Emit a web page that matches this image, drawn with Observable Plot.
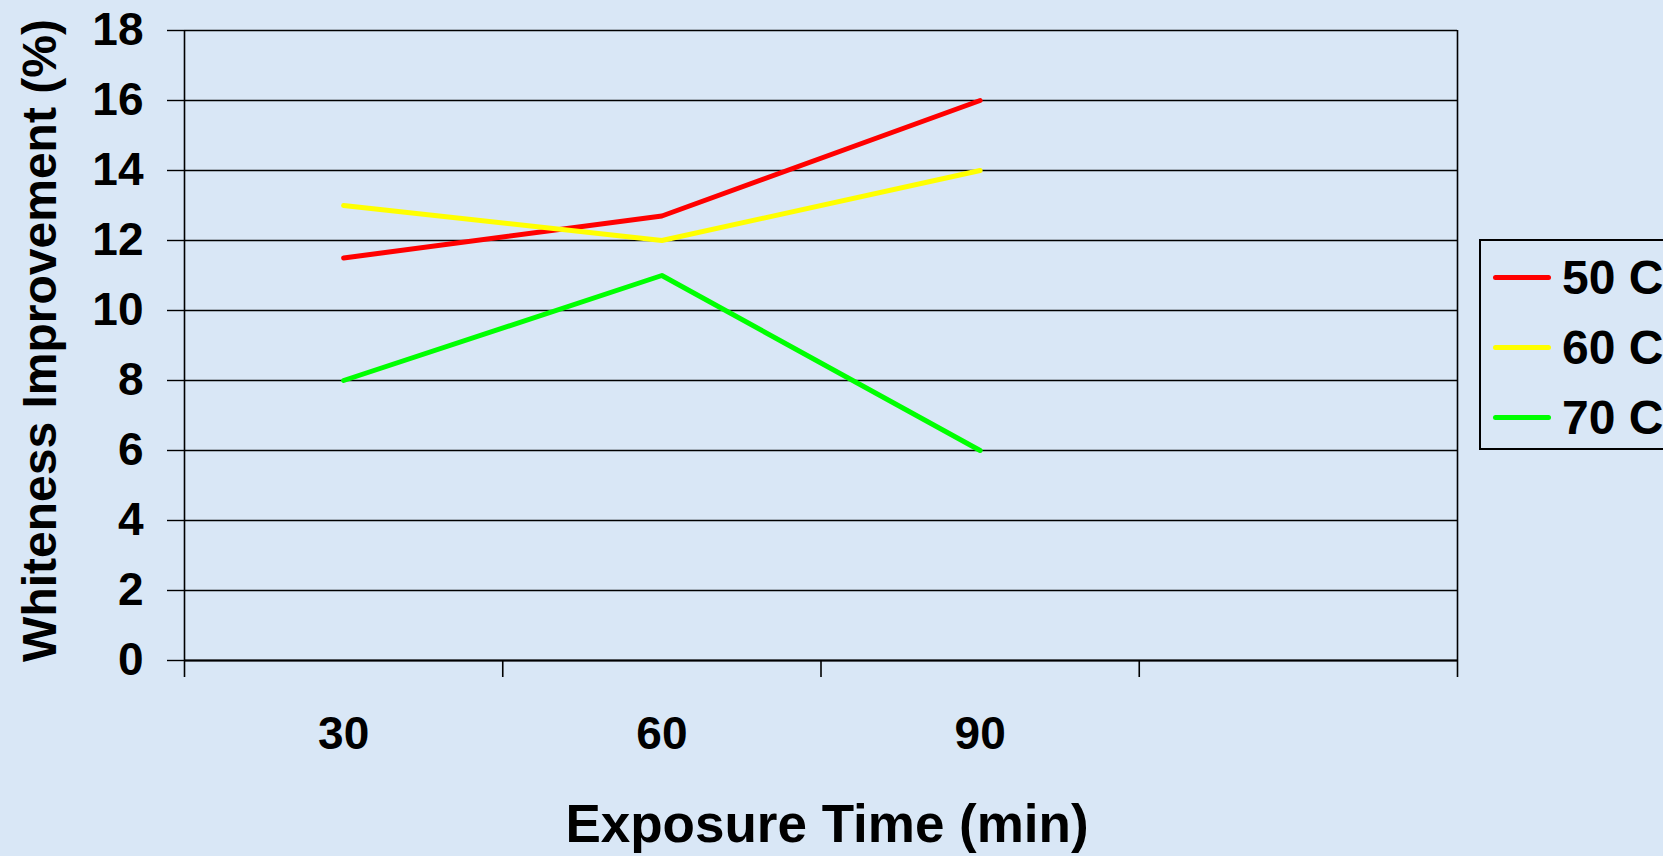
<!DOCTYPE html>
<html>
<head>
<meta charset="utf-8">
<script src="https://cdn.jsdelivr.net/npm/d3@7"></script>
<script src="https://cdn.jsdelivr.net/npm/@observablehq/plot@0.6"></script>
<style>
  html, body { margin: 0; padding: 0; background: #d9e7f6; overflow: hidden; }
  #wrap { position: relative; width: 1663px; height: 856px; font-family: "Liberation Sans", Arial, sans-serif; font-weight: bold; }
  #legend { position: absolute; left: 1479px; top: 239px; width: 240px; height: 211px; border: 2px solid #000; box-sizing: border-box; }
  .sw { position: absolute; left: 12px; width: 58px; height: 5px; border-radius: 3px; }
  .lt { position: absolute; left: 81px; font-size: 48px; line-height: 48px; height: 48px; white-space: nowrap; color: #000; }
</style>
</head>
<body>
<div id="wrap"><div id="chart"></div><div id="legend"></div></div>
<script>
const times = [30, 60, 90];
const xTickLabels = ["30", "60", "90"];
const series = ["50 C", "60 C", "70 C"];
const colors = ["#ff0000", "#ffff00", "#00ff00"];
const s50 = [11.5, 12.7, 16];
const s60 = [13, 12, 14];
const s70 = [8, 11, 6];
const yTicks = [0, 2, 4, 6, 8, 10, 12, 14, 16, 18];
const xTitle = "Exposure Time (min)";
const yTitle = "Whiteness Improvement (%)";

const values = [s50, s60, s70];
const rows = [];
series.forEach((s, i) => times.forEach((t, j) => rows.push({series: s, time: t, value: values[i][j]})));

// categories occupy bands of 30 min; band boundaries at 15,45,...,135 (4 bands, last empty)
const xDomain = [15, 135];
const bounds = d3.range(xDomain[0], xDomain[1] + 1, 30);

const chart = Plot.plot({
  width: 1663,
  height: 856,
  marginLeft: 184,
  marginRight: 206,
  marginTop: 30,
  marginBottom: 196,
  style: {background: "transparent", fontFamily: "'Liberation Sans', Arial, sans-serif", fontWeight: "bold", color: "#000", overflow: "visible"},
  x: {domain: xDomain},
  y: {domain: [0, 18]},
  color: {domain: series, range: colors},
  marks: [
    Plot.gridY(yTicks, {stroke: "#000", strokeOpacity: 1, strokeWidth: 1.4}),
    Plot.axisY(yTicks, {tickSize: 17, tickPadding: 24, fontSize: 46, fontWeight: "bold", label: null, stroke: "#000", strokeWidth: 1.4}),
    Plot.axisX(bounds, {tickSize: 17, tickFormat: () => "", label: null, stroke: "#000", strokeWidth: 1.6}),
    Plot.ruleX([xDomain[0], xDomain[1]], {stroke: "#000", strokeWidth: 1.6}),
    Plot.ruleY([0], {stroke: "#000", strokeWidth: 2.2}),
    Plot.text(times, {x: d => d, text: (d, i) => xTickLabels[i], frameAnchor: "bottom", lineAnchor: "middle", textAnchor: "middle", dy: 74, fontSize: 46, fontWeight: "bold", fill: "#000"}),
    Plot.line(rows, {x: "time", y: "value", z: "series", stroke: "series", strokeWidth: 5}),
    Plot.text([xTitle], {text: d => d, frameAnchor: "bottom", lineAnchor: "middle", textAnchor: "middle", dx: 6, dy: 165, fontSize: 53, fontWeight: "bold", fill: "#000"}),
    Plot.text([yTitle], {text: d => d, frameAnchor: "left", lineAnchor: "middle", textAnchor: "middle", dx: -144, dy: -5, rotate: -90, fontSize: 48, fontWeight: "bold", fill: "#000"})
  ]
});
document.getElementById("chart").appendChild(chart);

const legend = document.getElementById("legend");
series.forEach((s, i) => {
  const c = 36 + i * 70;
  const sw = document.createElement("div");
  sw.className = "sw";
  sw.style.top = (c - 2.5) + "px";
  sw.style.background = colors[i];
  legend.appendChild(sw);
  const t = document.createElement("div");
  t.className = "lt";
  t.style.top = (c - 23.5) + "px";
  t.textContent = s;
  legend.appendChild(t);
});
</script>
</body>
</html>
